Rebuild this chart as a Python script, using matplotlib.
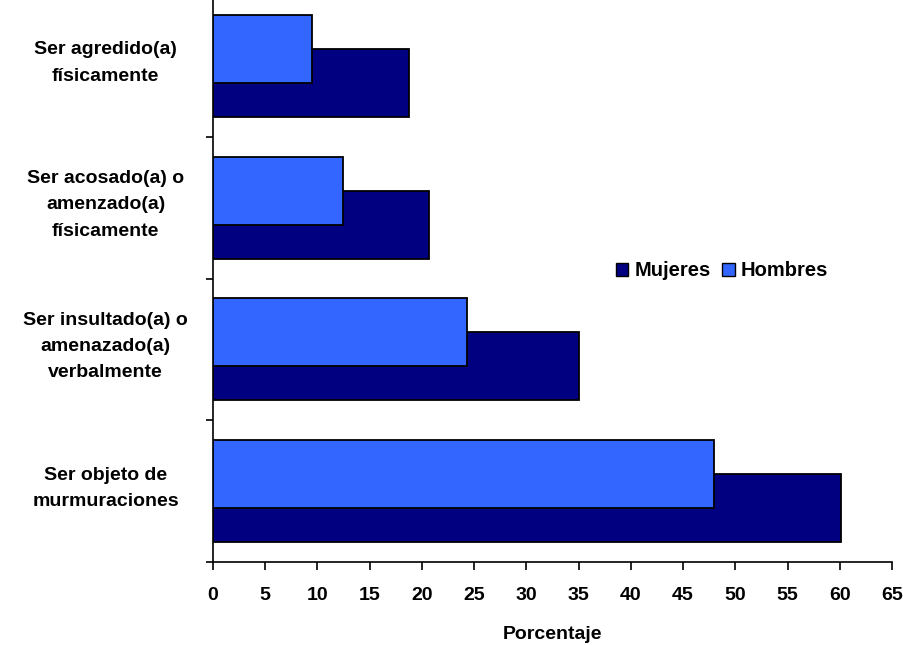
import matplotlib
matplotlib.use("Agg")
import matplotlib.pyplot as plt
from matplotlib.patches import Patch
import numpy as np

plt.rcParams['font.family'] = ['Liberation Sans', 'DejaVu Sans']
plt.rcParams['font.weight'] = 'bold'

categories = [
    "Ser objeto de\nmurmuraciones",
    "Ser insultado(a) o\namenazado(a)\nverbalmente",
    "Ser acosado(a) o\namenzado(a)\nfísicamente",
    "Ser agredido(a)\nfísicamente",
]
mujeres = [60.1, 35.0, 20.7, 18.8]
hombres = [48.0, 24.3, 12.4, 9.5]
x_ticks = list(range(0, 70, 5))

col_mujeres = "#000080"
col_hombres = "#3366FF"

fig = plt.figure(figsize=(9.04, 6.45), dpi=100)
ax = fig.add_axes([213 / 904, 1 - 562 / 645, 679 / 904, 567 / 645])

y = np.arange(len(categories))
h = 0.48
off = 0.12
ax.barh(y - off, mujeres, height=h, color=col_mujeres, edgecolor="black", linewidth=1.3, zorder=2)
ax.barh(y + off, hombres, height=h, color=col_hombres, edgecolor="black", linewidth=1.3, zorder=3)

ax.set_xlim(0, 65)
ax.set_ylim(-0.5, len(categories) - 0.5)
ax.set_xticks(x_ticks)
ax.set_xticklabels([str(v) for v in x_ticks], fontsize=14, fontweight="bold")

# category boundaries carry the tick marks, labels sit at the centres
ax.set_yticks(np.arange(-0.5, len(categories), 1.0))
ax.set_yticklabels([])
for yi, lab in zip(y, categories):
    ax.text(-0.158, yi + 0.02, lab, transform=ax.get_yaxis_transform(), ha="center", va="center",
            fontsize=14, fontweight="bold", linespacing=1.72, clip_on=False)

ax.tick_params(axis="x", direction="out", length=6, width=1.2, pad=12)
ax.tick_params(axis="y", direction="out", length=5, width=1.2)
for side in ("top", "right"):
    ax.spines[side].set_visible(False)
for side in ("left", "bottom"):
    ax.spines[side].set_linewidth(1.2)

ax.set_xlabel("Porcentaje", fontsize=14, fontweight="bold", labelpad=16)

handles = [Patch(facecolor=col_mujeres, edgecolor="black", label="Mujeres"),
           Patch(facecolor=col_hombres, edgecolor="black", label="Hombres")]
ax.legend(handles=handles, loc="center", bbox_to_anchor=(722 / 904, 1 - 271 / 645),
          bbox_transform=fig.transFigure, ncol=2, frameon=False,
          prop={"size": 14.5, "weight": "bold"}, handlelength=0.6, handleheight=0.6,
          handletextpad=0.3, columnspacing=0.6)

fig.savefig("out.png", dpi=100)
